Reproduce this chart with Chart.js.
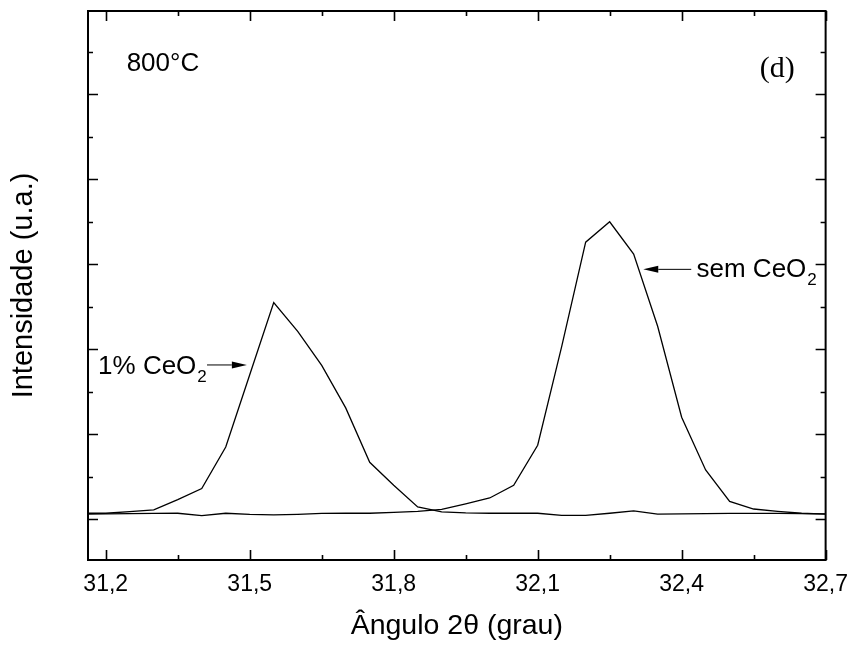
<!DOCTYPE html>
<html>
<head>
<meta charset="utf-8">
<script src="https://cdn.jsdelivr.net/npm/chart.js@4"></script>
<style>
  body { margin: 0; background: #fff; }
</style>
</head>
<body>
<canvas id="chart" width="859" height="653"></canvas>
<script>
// 2-theta positions (degrees), step 0.05
const angles = [31.15, 31.2, 31.25, 31.3, 31.35, 31.4, 31.45, 31.5, 31.55, 31.6, 31.65, 31.7, 31.75, 31.8, 31.85, 31.9,
                31.95, 32.0, 32.05, 32.1, 32.15, 32.2, 32.25, 32.3, 32.35, 32.4, 32.45, 32.5, 32.55, 32.6, 32.65, 32.7]
// intensity, arbitrary units
const withCeO2 = [7, 7, 9, 11, 23, 36, 85, 170, 255, 221, 181, 131, 67, 40, 14.5, 8.6,
                  7.4, 7, 7, 7, 4.5, 4.5, 7, 9.8, 5.9, 6.2, 6.5, 6.8, 6.8, 6.8, 6.5, 6.2]
const noCeO2 = [5.9, 6.2, 6.5, 6.8, 7, 4.2, 7, 5.6, 5, 5.6, 6.8, 7, 7, 8, 9.2, 11.5,
                18, 25, 40, 87, 203, 326, 350, 312, 227, 120, 58, 21, 12, 9.2, 7, 5.9]

const xTicks = [31.2, 31.5, 31.8, 32.1, 32.4, 32.7]
const xMinor = [31.35, 31.65, 31.95, 32.25, 32.55]
const yTicks = [0, 100, 200, 300, 400, 500]
const yMinor = [50, 150, 250, 350, 450, 550]

const sans = "'Liberation Sans', Arial, sans-serif"

// text notes, placed in data coordinates
const notes = [
    { text: '800°C', x: 31.2435, y: 527.8, font: '26px ' + sans },
    { text: '(d)', x: 32.563, y: 520, font: '30px "Liberation Serif", "Times New Roman", serif' },
    { text: '1% CeO', sub: '2', x: 31.184, y: 171, font: '26px ' + sans },
    { text: 'sem CeO', sub: '2', x: 32.431, y: 285.4, font: '26px ' + sans }
]
const arrows = [
    { from: [31.411, 181.5], to: [31.494, 181.5] },
    { from: [32.420, 294], to: [32.320, 294] }
]

const frame = {
    id: 'frame',
    afterDatasetsDraw(chart) {
        const { ctx, chartArea: a, scales: { x, y } } = chart
        ctx.save()
        ctx.strokeStyle = '#000'
        ctx.fillStyle = '#000'
        ctx.lineWidth = 2
        ctx.strokeRect(a.left, a.top, a.right - a.left, a.bottom - a.top)

        ctx.lineWidth = 1.6
        ctx.beginPath()
        const xt = (v, len) => {
            const p = Math.round(x.getPixelForValue(v)) + 0.5
            ctx.moveTo(p, a.bottom); ctx.lineTo(p, a.bottom - len)
            ctx.moveTo(p, a.top); ctx.lineTo(p, a.top + len)
        }
        const yt = (v, len) => {
            const p = Math.round(y.getPixelForValue(v)) + 0.5
            ctx.moveTo(a.left, p); ctx.lineTo(a.left + len, p)
            ctx.moveTo(a.right, p); ctx.lineTo(a.right - len, p)
        }
        xTicks.forEach(v => xt(v, 10))
        xMinor.forEach(v => xt(v, 5))
        yTicks.forEach(v => yt(v, 10))
        yMinor.forEach(v => yt(v, 5))
        ctx.stroke()

        // notes
        ctx.textBaseline = 'alphabetic'
        ctx.textAlign = 'left'
        notes.forEach(n => {
            const px = x.getPixelForValue(n.x)
            const py = y.getPixelForValue(n.y)
            ctx.font = n.font
            ctx.fillText(n.text, px, py)
            if (n.sub) {
                const w = ctx.measureText(n.text).width
                ctx.font = '17px ' + sans
                ctx.fillText(n.sub, px + w + 1, py + 8)
            }
        })

        // arrows
        ctx.lineWidth = 1
        arrows.forEach(ar => {
            const x0 = x.getPixelForValue(ar.from[0]), y0 = y.getPixelForValue(ar.from[1])
            const x1 = x.getPixelForValue(ar.to[0]), y1 = y.getPixelForValue(ar.to[1])
            const ang = Math.atan2(y1 - y0, x1 - x0)
            const hl = 15, hw = 3.5
            const bx = x1 - hl * Math.cos(ang), by = y1 - hl * Math.sin(ang)
            ctx.beginPath()
            ctx.moveTo(x0, y0); ctx.lineTo(bx, by)
            ctx.stroke()
            ctx.beginPath()
            ctx.moveTo(x1, y1)
            ctx.lineTo(bx + hw * Math.sin(ang), by - hw * Math.cos(ang))
            ctx.lineTo(bx - hw * Math.sin(ang), by + hw * Math.cos(ang))
            ctx.closePath()
            ctx.fill()
        })
        ctx.restore()
    }
}

const line = (label, values) => ({
    label,
    data: angles.map((a, i) => ({ x: a, y: values[i] })),
    borderColor: '#000',
    borderWidth: 1.3,
    pointRadius: 0,
    tension: 0,
    fill: false
})

new Chart(document.getElementById('chart'), {
    type: 'line',
    data: {
        datasets: [line('1% CeO2', withCeO2), line('sem CeO2', noCeO2)]
    },
    options: {
        responsive: false,
        animation: false,
        layout: { padding: { top: 11, right: 29, left: 0, bottom: 0 } },
        plugins: { legend: { display: false }, tooltip: { enabled: false } },
        scales: {
            x: {
                type: 'linear',
                min: 31.163,
                max: 32.7,
                afterBuildTicks: s => { s.ticks = xTicks.map(v => ({ value: v })) },
                afterFit: s => { s.height = 93 },
                grid: { display: false, drawTicks: false },
                border: { display: false },
                ticks: {
                    color: '#000',
                    font: { size: 23, family: sans },
                    padding: 11,
                    maxRotation: 0,
                    autoSkip: false,
                    callback: v => v.toFixed(1).replace('.', ',')
                },
                title: {
                    display: true,
                    text: 'Ângulo 2θ (grau)',
                    color: '#000',
                    font: { size: 28.5, family: sans },
                    padding: { top: 10, bottom: 10 }
                }
            },
            y: {
                type: 'linear',
                min: -48,
                max: 598,
                afterFit: s => { s.width = 88 },
                ticks: { display: false },
                grid: { display: false, drawTicks: false },
                border: { display: false },
                title: {
                    display: true,
                    text: 'Intensidade (u.a.)',
                    color: '#000',
                    font: { size: 29, family: sans },
                    padding: { top: 7, bottom: 7 }
                }
            }
        }
    },
    plugins: [frame]
})
</script>
</body>
</html>
